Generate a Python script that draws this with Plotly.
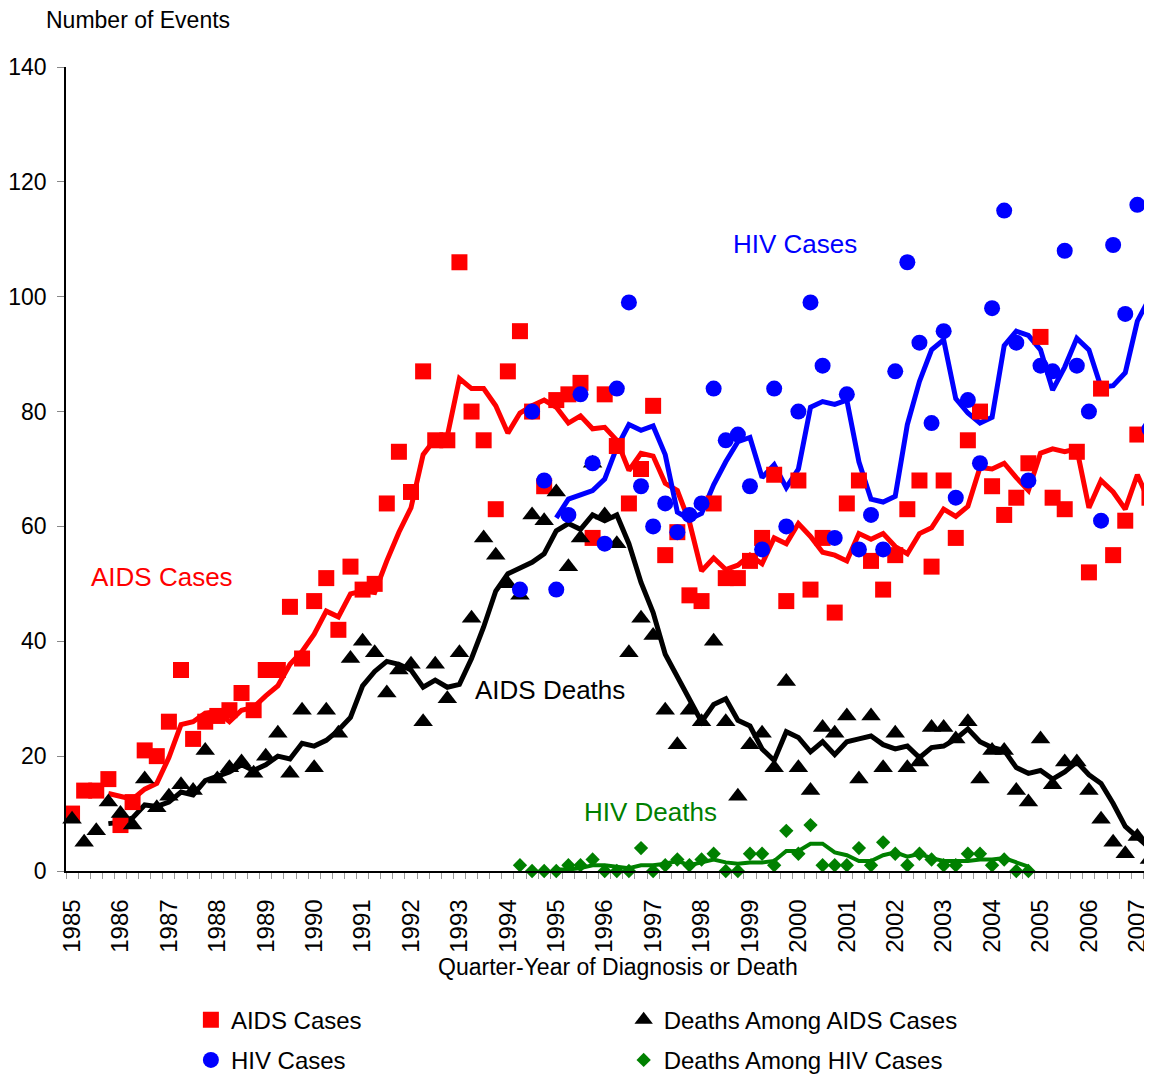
import plotly.graph_objects as go
import pandas as pd

# ---------------- data ----------------
year_labels = ["1985", "1986", "1987", "1988", "1989", "1990", "1991", "1992",
               "1993", "1994", "1995", "1996", "1997", "1998", "1999", "2000",
               "2001", "2002", "2003", "2004", "2005", "2006", "2007"]
quarters = [f"{y} Q{q}" for y in year_labels for q in (1, 2, 3, 4)][:90]

aids_cases = [10, 14, 14, 16, 8, 12, 21, 20, 26, 35,
              23, 26, 27, 28, 31, 28, 35, 35, 46, 37,
              47, 51, 42, 53, 49, 50, 64, 73, 66, 87,
              75, 75, 106, 80, 75, 63, 87, 94, 80, 67,
              82, 83, 85, 58, 83, 74, 64, 70, 81, 55,
              59, 48, 47, 64, 51, 51, 54, 58, 69, 47,
              68, 49, 58, 45, 64, 68, 54, 49, 55, 63,
              68, 53, 68, 58, 75, 80, 67, 62, 65, 71,
              93, 65, 63, 73, 52, 84, 55, 61, 76, 65]

aids_deaths = [9, 5, 7, 12, 10, 8, 16, 11, 13, 15,
               14, 21, 16, 18, 19, 17, 20, 24, 17, 28,
               18, 28, 24, 37, 40, 38, 31, 35, 36, 26,
               36, 30, 38, 44, 58, 55, 50, 48, 62, 61,
               66, 53, 58, 71, 62, 57, 38, 44, 41, 28,
               22, 28, 26, 40, 26, 13, 22, 24, 18, 33,
               18, 14, 25, 24, 27, 16, 27, 18, 24, 18,
               19, 25, 25, 23, 26, 16, 21, 21, 14, 12,
               23, 15, 19, 19, 14, 9, 5, 3, 6, 2]

# HIV reporting starts in 1994 Q2 (quarter index 37)
hiv_cases = [None] * 37 + [49, 80, 68,
                           49, 62, 83, 71, 57, 84, 99, 67, 60, 64,
                           59, 62, 64, 84, 75, 76, 67, 56, 84, 60,
                           80, 99, 88, 58, 83, 56, 62, 56, 87, 106,
                           92, 78, 94, 65, 82, 71, 98, 115, 92, 68,
                           88, 87, 108, 88, 80, 61, 109, 97, 116, 77]

hiv_deaths = [None] * 37 + [1, 0, 0,
                            0, 1, 1, 2, 0, 0, 0, 4, 0, 1,
                            2, 1, 2, 3, 0, 0, 3, 3, 1, 7,
                            3, 8, 1, 1, 1, 4, 1, 5, 3, 1,
                            3, 2, 1, 1, 3, 3, 1, 2, 0, 0] + [None] * 10

qx = list(range(len(quarters)))


def moving_avg(values):
    return pd.Series(values, dtype=float).rolling(4).mean()


FONT = "Arial, Liberation Sans, Helvetica, sans-serif"
RED, BLUE, BLACK, GREEN = "#FF0000", "#0000FF", "#000000", "#008000"

fig = go.Figure()

# 4-quarter moving-average lines (under the markers)
for vals, col, w in [(aids_cases, RED, 5), (aids_deaths, BLACK, 5),
                     (hiv_cases, BLUE, 5), (hiv_deaths, GREEN, 4)]:
    fig.add_trace(go.Scatter(x=qx, y=moving_avg(vals), mode="lines",
                             line=dict(color=col, width=w),
                             showlegend=False, hoverinfo="skip"))

# markers
fig.add_trace(go.Scatter(x=qx, y=aids_cases, mode="markers", name="AIDS Cases",
                         marker=dict(symbol="square", size=16, color=RED),
                         legend="legend", legendgroup="a", cliponaxis=False))
fig.add_trace(go.Scatter(x=qx, y=aids_deaths, mode="markers", name="Deaths Among AIDS Cases",
                         marker=dict(symbol="triangle-up", size=17, color=BLACK),
                         legend="legend2", legendgroup="c", cliponaxis=False))
fig.add_trace(go.Scatter(x=qx, y=hiv_cases, mode="markers", name="HIV Cases",
                         marker=dict(symbol="circle", size=16, color=BLUE),
                         legend="legend", legendgroup="b", cliponaxis=False))
fig.add_trace(go.Scatter(x=qx, y=hiv_deaths, mode="markers", name="Deaths Among HIV Cases",
                         marker=dict(symbol="diamond", size=11, color=GREEN),
                         legend="legend2", legendgroup="d", cliponaxis=False))

tickvals = [i * 4 for i in range(len(year_labels))]

# The page body has an 8px default margin, so the figure is 8px smaller on
# each axis and the margins are shifted accordingly.
fig.update_layout(
    width=1144, height=1066,
    margin=dict(l=58, r=0, t=59, b=203, autoexpand=False),
    paper_bgcolor="white", plot_bgcolor="white",
    font=dict(family=FONT, size=22, color="black"),
    showlegend=True,
    xaxis=dict(
        range=[-0.5, 89.21], tickmode="array", tickvals=tickvals, ticktext=year_labels,
        tickangle=-90, ticks="", showgrid=False, zeroline=False, automargin=False,
        showline=True, linecolor="black", linewidth=1.5,
        tickfont=dict(size=24), ticklabelstandoff=17,
        minor=dict(ticks="outside", tick0=-0.5, dtick=1, ticklen=6,
                   tickcolor="#999999", tickwidth=1, showgrid=False),
    ),
    yaxis=dict(
        range=[0, 140], dtick=20, ticks="outside", ticklen=7, tickcolor="#888888",
        showgrid=False, zeroline=False, showline=True, linecolor="black", linewidth=1.5,
        tickfont=dict(size=23), ticklabelstandoff=6, automargin=False,
    ),
    legend=dict(x=0.1150, y=-0.1575, xanchor="left", yanchor="top",
                orientation="v", traceorder="grouped", tracegroupgap=6,
                font=dict(size=24, family=FONT), bgcolor="rgba(0,0,0,0)"),
    legend2=dict(x=0.5135, y=-0.1575, xanchor="left", yanchor="top",
                 orientation="v", traceorder="grouped", tracegroupgap=6,
                 font=dict(size=24, family=FONT), bgcolor="rgba(0,0,0,0)"),
    annotations=[
        dict(text="Number of Events", xref="paper", yref="paper", x=-0.0203, y=1.0585,
             xanchor="left", yanchor="middle", showarrow=False, font=dict(size=23)),
        dict(text="Quarter-Year of Diagnosis or Death", xref="paper", yref="paper",
             x=0.508, y=-0.119, xanchor="center", yanchor="middle", showarrow=False,
             font=dict(size=23)),
        dict(text="HIV Cases", x=59.75, y=109.2, showarrow=False,
             font=dict(size=26, color=BLUE)),
        dict(text="AIDS Cases", x=7.4, y=51.2, showarrow=False,
             font=dict(size=26, color=RED)),
        dict(text="AIDS Deaths", x=39.5, y=31.5, showarrow=False,
             font=dict(size=26, color=BLACK)),
        dict(text="HIV Deaths", x=47.8, y=10.3, showarrow=False,
             font=dict(size=26, color=GREEN)),
    ],
)

fig.write_html("out.html")
